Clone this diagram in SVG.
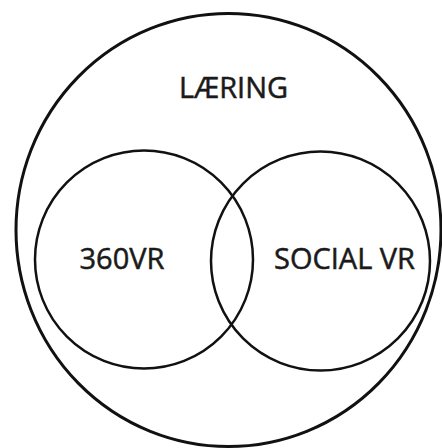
<svg xmlns="http://www.w3.org/2000/svg" width="442" height="448" viewBox="0 0 442 448">
<style>
.c{fill:none;stroke:#111;}
.t{font-family:"Open Sans","Noto Sans",sans-serif;fill:#1a1a1a;stroke:#1a1a1a;stroke-width:0.5;text-anchor:middle;}
</style>
<rect width="442" height="448" fill="#fff"/>
<g id="laering">
<ellipse class="c" cx="228.5" cy="230" rx="212.5" ry="216.5" stroke-width="3"/>
<text class="t" x="233.5" y="97.5" font-size="29">LÆRING</text>
</g>
<g id="vr360">
<circle class="c" cx="144" cy="259.5" r="109" stroke-width="2.5"/>
<text class="t" x="122" y="269" font-size="29">360VR</text>
</g>
<g id="socialvr">
<circle class="c" cx="320.5" cy="261" r="109.5" stroke-width="2.5"/>
<text class="t" x="344.5" y="269" font-size="29">SOCIAL VR</text>
</g>
<g id="connectors"/>
</svg>
